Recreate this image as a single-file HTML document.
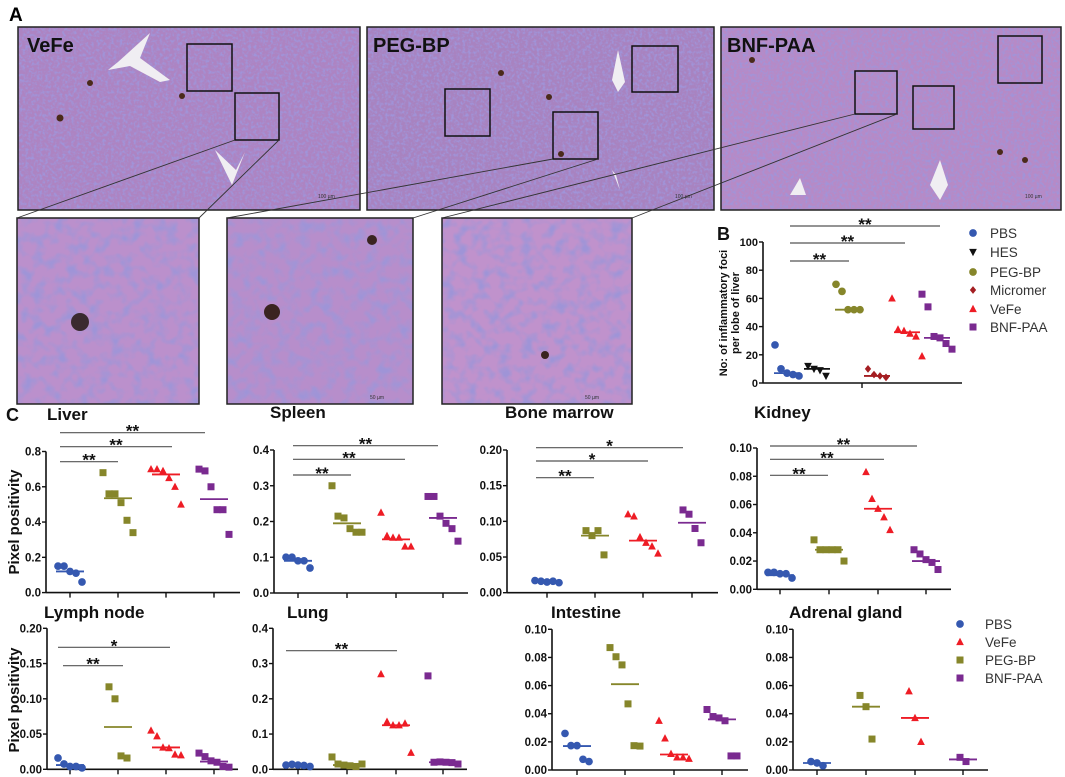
<!DOCTYPE html>
<html><head><meta charset="utf-8"><style>
html,body{margin:0;padding:0;background:#fff;}
svg{display:block;font-family:"Liberation Sans",Arial,sans-serif;}
</style></head><body>
<svg id="fig" width="1065" height="777" viewBox="0 0 1065 777" xmlns="http://www.w3.org/2000/svg">
<defs>
<filter id="tissue" x="0" y="0" width="100%" height="100%">
<feTurbulence type="fractalNoise" baseFrequency="0.35" numOctaves="2" seed="3" result="n"/>
<feColorMatrix in="n" type="matrix" values="0 0 0 0 0.35  0 0 0 0 0.3  0 0 0 0 0.7  3 0 0 0 -1.3" result="c"/>
<feComposite in="c" in2="SourceGraphic" operator="in"/>
</filter>
<filter id="tissue2" x="0" y="0" width="100%" height="100%">
<feTurbulence type="fractalNoise" baseFrequency="0.09" numOctaves="2" seed="7" result="n"/>
<feColorMatrix in="n" type="matrix" values="0 0 0 0 0.35  0 0 0 0 0.3  0 0 0 0 0.68  3 0 0 0 -1.3" result="c"/>
<feComposite in="c" in2="SourceGraphic" operator="in"/>
</filter>
</defs>
<g id="panelA">
<text x="9" y="21" font-size="19" font-weight="bold">A</text>
<g>
<rect x="18" y="27" width="342" height="183" fill="#ad84c2"/>
<rect x="18" y="27" width="342" height="183" fill="#fff" filter="url(#tissue)"/>
<path d="M118 62 L150 33 L140 58 L170 80 L160 82 L130 66 L108 70Z" fill="#f0eef2"/>
<path d="M215 150 L232 185 L245 152 L236 170Z" fill="#f0eef2"/>
<circle cx="60" cy="118" r="3.5" fill="#4a2a1a"/><circle cx="182" cy="96" r="3" fill="#4a2a1a"/><circle cx="90" cy="83" r="3" fill="#4a2a1a"/>
<rect x="18" y="27" width="342" height="183" fill="none" stroke="#222" stroke-width="1.5"/>
<rect x="187" y="44" width="45" height="47" fill="none" stroke="#111" stroke-width="1.5"/>
<rect x="235" y="93" width="44" height="47" fill="none" stroke="#111" stroke-width="1.5"/>
<text x="27" y="52" font-size="20" font-weight="bold" fill="#111">VeFe</text>
<text x="318" y="198" font-size="5" fill="#333">100 µm</text>
</g>
<g>
<rect x="367" y="27" width="347" height="183" fill="#a883c0"/>
<rect x="367" y="27" width="347" height="183" fill="#fff" filter="url(#tissue)"/>
<path d="M612 80 L618 50 L625 82 L618 92Z" fill="#f0eef2"/>
<path d="M612 170 L620 190 L616 175Z" fill="#f0eef2"/>
<circle cx="549" cy="97" r="3" fill="#4a2a1a"/><circle cx="501" cy="73" r="3" fill="#4a2a1a"/><circle cx="561" cy="154" r="3" fill="#4a2a1a"/>
<rect x="367" y="27" width="347" height="183" fill="none" stroke="#222" stroke-width="1.5"/>
<rect x="445" y="89" width="45" height="47" fill="none" stroke="#111" stroke-width="1.5"/>
<rect x="553" y="112" width="45" height="47" fill="none" stroke="#111" stroke-width="1.5"/>
<rect x="632" y="46" width="46" height="46" fill="none" stroke="#111" stroke-width="1.5"/>
<text x="373" y="52" font-size="20" font-weight="bold" fill="#111">PEG-BP</text>
<text x="675" y="198" font-size="5" fill="#333">100 µm</text>
</g>
<g>
<rect x="721" y="27" width="340" height="183" fill="#b68ac6"/>
<rect x="721" y="27" width="340" height="183" fill="#fff" filter="url(#tissue)"/>
<path d="M930 185 L940 160 L948 185 L940 200Z" fill="#f0eef2"/>
<path d="M790 195 L800 178 L806 195Z" fill="#f0eef2"/>
<circle cx="752" cy="60" r="3" fill="#4a2a1a"/><circle cx="1000" cy="152" r="3" fill="#4a2a1a"/><circle cx="1025" cy="160" r="3" fill="#4a2a1a"/>
<rect x="721" y="27" width="340" height="183" fill="none" stroke="#222" stroke-width="1.5"/>
<rect x="855" y="71" width="42" height="43" fill="none" stroke="#111" stroke-width="1.5"/>
<rect x="913" y="86" width="41" height="43" fill="none" stroke="#111" stroke-width="1.5"/>
<rect x="998" y="36" width="44" height="47" fill="none" stroke="#111" stroke-width="1.5"/>
<text x="727" y="52" font-size="20" font-weight="bold" fill="#111">BNF-PAA</text>
<text x="1025" y="198" font-size="5" fill="#333">100 µm</text>
</g>
<g>
<rect x="17" y="218" width="182" height="186" fill="#bb90cc"/>
<rect x="17" y="218" width="182" height="186" fill="#fff" filter="url(#tissue2)"/>
<circle cx="80" cy="322" r="9" fill="#3a2a30"/>
<rect x="17" y="218" width="182" height="186" fill="none" stroke="#222" stroke-width="1.5"/>
</g>
<g>
<rect x="227" y="218" width="186" height="186" fill="#b78ecb"/>
<rect x="227" y="218" width="186" height="186" fill="#fff" filter="url(#tissue2)"/>
<circle cx="272" cy="312" r="8" fill="#3a2420"/><circle cx="372" cy="240" r="5" fill="#3a2420"/>
<rect x="227" y="218" width="186" height="186" fill="none" stroke="#222" stroke-width="1.5"/>
<text x="370" y="399" font-size="5" fill="#333">50 µm</text>
</g>
<g>
<rect x="442" y="218" width="190" height="186" fill="#c092cc"/>
<rect x="442" y="218" width="190" height="186" fill="#fff" filter="url(#tissue2)"/>
<circle cx="545" cy="355" r="4" fill="#3a2420"/>
<rect x="442" y="218" width="190" height="186" fill="none" stroke="#222" stroke-width="1.5"/>
<text x="585" y="399" font-size="5" fill="#333">50 µm</text>
</g>
<g stroke="#333" stroke-width="0.9">
<line x1="235" y1="140" x2="17" y2="218"/><line x1="279" y1="140" x2="199" y2="218"/>
<line x1="553" y1="159" x2="227" y2="218"/><line x1="598" y1="159" x2="413" y2="218"/>
<line x1="855" y1="114" x2="442" y2="218"/><line x1="897" y1="114" x2="632" y2="218"/>
</g>
</g>
<g id="charts"></g>
</svg>
<script>
// ---------- Panel B data ----------
const bGroups = ["PBS","HES","PEG-BP","Micromer","VeFe","BNF-PAA"];
const bValues = [[27,10,7,6,5],[12,10,9,5],[70,65,52,52,52],[10,6,5,4],[60,38,37,35,33,19],[63,54,33,32,28,24]];
const bMedians = [7,10,52,5,36,32];
const bTicks = [0,20,40,60,80,100];
// ---------- Panel C data (x order: PBS, PEG-BP, VeFe, BNF-PAA) ----------
const cGroups = ["PBS","PEG-BP","VeFe","BNF-PAA"];
const cLegend = ["PBS","VeFe","PEG-BP","BNF-PAA"];
const liverValues = [[0.15,0.15,0.12,0.11,0.06],[0.68,0.56,0.56,0.51,0.41,0.34],[0.70,0.70,0.69,0.65,0.60,0.50],[0.70,0.69,0.60,0.47,0.47,0.33]];
const liverMedians = [0.12,0.535,0.67,0.53];
const spleenValues = [[0.10,0.10,0.09,0.09,0.07],[0.30,0.215,0.21,0.18,0.17,0.17],[0.225,0.16,0.155,0.155,0.13,0.13],[0.27,0.27,0.215,0.195,0.18,0.145]];
const spleenMedians = [0.09,0.195,0.15,0.21];
const marrowValues = [[0.017,0.016,0.015,0.016,0.014],[0.087,0.08,0.087,0.053],[0.11,0.107,0.078,0.07,0.065,0.055],[0.116,0.11,0.09,0.07]];
const marrowMedians = [0.015,0.08,0.073,0.098];
const kidneyValues = [[0.012,0.012,0.011,0.011,0.008],[0.035,0.028,0.028,0.028,0.028,0.02],[0.083,0.064,0.057,0.051,0.042],[0.028,0.025,0.021,0.019,0.014]];
const kidneyMedians = [0.010,0.028,0.057,0.020];
const lymphValues = [[0.016,0.0075,0.004,0.004,0.002],[0.117,0.10,0.019,0.016],[0.055,0.047,0.031,0.03,0.021,0.02],[0.023,0.018,0.012,0.01,0.004,0.003]];
const lymphMedians = [0.006,0.06,0.031,0.011];
const lungValues = [[0.012,0.014,0.012,0.011,0.008],[0.035,0.015,0.012,0.01,0.008,0.015],[0.27,0.135,0.125,0.125,0.13,0.047],[0.265,0.02,0.021,0.02,0.019,0.015]];
const lungMedians = [0.011,0.012,0.125,0.02];
const intestineValues = [[0.026,0.0173,0.0173,0.0076,0.006],[0.087,0.0805,0.0747,0.047,0.0173,0.017],[0.035,0.0225,0.0115,0.009,0.009,0.008],[0.043,0.038,0.037,0.035,0.01,0.01]];
const intestineMedians = [0.017,0.061,0.011,0.036];
const adrenalValues = [[0.006,0.005,0.003],[0.053,0.045,0.022],[0.056,0.037,0.02],[0.009,0.006]];
const adrenalMedians = [0.005,0.045,0.037,0.0075];
const liverTicks=[0,0.2,0.4,0.6,0.8], spleenTicks=[0,0.1,0.2,0.3,0.4], marrowTicks=[0,0.05,0.10,0.15,0.20];
const kidneyTicks=[0,0.02,0.04,0.06,0.08,0.10], lymphTicks=[0,0.05,0.10,0.15,0.20], lungTicks=[0,0.1,0.2,0.3,0.4];
const intestineTicks=[0,0.02,0.04,0.06,0.08,0.10], adrenalTicks=[0,0.02,0.04,0.06,0.08,0.10];

const NS="http://www.w3.org/2000/svg";
const root=document.getElementById('charts');
function mk(tag,attrs,parent){const e=document.createElementNS(NS,tag);for(const k in attrs)e.setAttribute(k,attrs[k]);(parent||root).appendChild(e);return e;}
const COL={"PBS":"#3558b0","HES":"#111","PEG-BP":"#86862a","Micromer":"#a41e22","VeFe":"#ee1c25","BNF-PAA":"#7a2a90"};
const SHAPE={"PBS":"circle","HES":"tridown","PEG-BP":"circle","Micromer":"diamond","VeFe":"tri","BNF-PAA":"square"};
const SHAPEC={"PBS":"circle","VeFe":"tri","PEG-BP":"square","BNF-PAA":"square"};
function marker(g,shape,x,y,s,c){
  let e;
  if(shape==="circle") e=mk('circle',{cx:x,cy:y,r:s*0.55,fill:c},g);
  else if(shape==="square") e=mk('rect',{x:x-s*0.5,y:y-s*0.5,width:s,height:s,fill:c},g);
  else if(shape==="tri") e=mk('polygon',{points:`${x},${y-s*0.6} ${x-s*0.55},${y+s*0.45} ${x+s*0.55},${y+s*0.45}`,fill:c},g);
  else if(shape==="tridown") e=mk('polygon',{points:`${x},${y+s*0.6} ${x-s*0.55},${y-s*0.45} ${x+s*0.55},${y-s*0.45}`,fill:c},g);
  else e=mk('polygon',{points:`${x},${y-s*0.55} ${x-s*0.45},${y} ${x},${y+s*0.55} ${x+s*0.45},${y}`,fill:c},g);
  return e;
}
function fmt(v,d){return v.toFixed(d);}

function plot(cfg){
  const g=mk('g',{});
  
  
  const ymax=cfg.ticks[cfg.ticks.length-1];
  const Y=v=>cfg.yb-(v/ymax)*(cfg.yb-cfg.yt);
  const X=i=>cfg.gx[i];
  const ax=mk('line',{x1:cfg.x0,y1:cfg.yt,x2:cfg.x0,y2:cfg.yb,stroke:'#111','stroke-width':1.6},g);
  
  
  const bx=mk('line',{x1:cfg.x0,y1:cfg.yb,x2:cfg.x1,y2:cfg.yb,stroke:'#111','stroke-width':1.6},g);
  
  
  cfg.ticks.forEach(t=>{
    const y=Y(t);
    mk('line',{x1:cfg.x0-4,y1:y,x2:cfg.x0,y2:y,stroke:'#111','stroke-width':1.4},g);
    const tx=mk('text',{x:cfg.x0-5,y:y+4,'font-size':cfg.tfs||11.5,'font-weight':'bold','text-anchor':'end',fill:'#111'},g);
    tx.textContent=fmt(t,cfg.dec);
    
    
  });
  cfg.xticks.forEach(x=>mk('line',{x1:x,y1:cfg.yb,x2:x,y2:cfg.yb+5,stroke:'#111','stroke-width':1.4},g));
  cfg.values.forEach((arr,i)=>{
    const grp=cfg.groups[i];const c=COL[grp];
    const n=arr.length;
    arr.forEach((v,j)=>{
      const off=(j-(n-1)/2)*cfg.step;
      const m=marker(g,cfg.shapes[grp],X(i)+off,Y(v),cfg.ms,c);
      
      
    });
    const md=mk('line',{x1:X(i)-cfg.mw,y1:Y(cfg.medians[i]),x2:X(i)+cfg.mw,y2:Y(cfg.medians[i]),stroke:c,'stroke-width':1.8},g);
    
    
  });
  (cfg.sig||[]).forEach(s=>{
    const l=mk('line',{x1:s[0],y1:s[2],x2:s[1],y2:s[2],stroke:'#555','stroke-width':1.2},g);
    
    
    const t=mk('text',{x:(s[0]+s[1])/2,y:s[2]+4,'font-size':17,'font-weight':'bold','text-anchor':'middle',fill:'#111'},g);
    t.textContent=s[3];
    
    
  });
  if(cfg.title){
    const t=mk('text',{x:cfg.tx,y:cfg.ty,'font-size':17,'font-weight':'bold',fill:'#111'},g);
    t.textContent=cfg.title;
    
    
  }
}

const base={groups:cGroups,shapes:SHAPEC,ms:7,step:6,mw:14};
plot(Object.assign({},base,{name:'liver',title:'Liver',tx:47,ty:420,x0:46,x1:240,yt:451.5,yb:592.6,ticks:liverTicks,dec:1,gx:[70,118,166,214],xticks:[70,118,166,214],values:liverValues,medians:liverMedians,
  sig:[[60,118,461.7,'**'],[60,172,446.7,'**'],[60,205,432.7,'**']]}));
plot(Object.assign({},base,{name:'spleen',title:'Spleen',tx:270,ty:418,x0:274,x1:468,yt:450,yb:593,ticks:spleenTicks,dec:1,gx:[298,347,396,443],xticks:[298,347,396,443],values:spleenValues,medians:spleenMedians,
  sig:[[293,351,475,'**'],[293,405,459.3,'**'],[293,438,445.7,'**']]}));
plot(Object.assign({},base,{name:'bone-marrow',title:'Bone marrow',tx:505,ty:418,x0:507,x1:718,yt:450,yb:592.7,ticks:marrowTicks,dec:2,gx:[547,595,643,692],xticks:[547,595,643,692],values:marrowValues,medians:marrowMedians,
  sig:[[536,594,477.7,'**'],[536,648,461,'*'],[536,683,447.7,'*']]}));
plot(Object.assign({},base,{name:'kidney',title:'Kidney',tx:754,ty:418,x0:757,x1:951,yt:448,yb:589.3,ticks:kidneyTicks,dec:2,gx:[780,829,878,926],xticks:[780,829,878,926],values:kidneyValues,medians:kidneyMedians,
  sig:[[770,828,475.3,'**'],[770,884,459.3,'**'],[770,917,446,'**']]}));
plot(Object.assign({},base,{name:'lymph-node',title:'Lymph  node',tx:44,ty:618,x0:47,x1:238,yt:628.3,yb:769.3,ticks:lymphTicks,dec:2,gx:[70,118,166,214],xticks:[70,118,166,214],values:lymphValues,medians:lymphMedians,
  sig:[[63,123,665.7,'**'],[58,170,647.3,'*']]}));
plot(Object.assign({},base,{name:'lung',title:'Lung',tx:287,ty:618,x0:273,x1:467,yt:628.3,yb:769.3,ticks:lungTicks,dec:1,gx:[298,347,396,443],xticks:[298,347,396,443],values:lungValues,medians:lungMedians,
  sig:[[286,397,650.7,'**']]}));
plot(Object.assign({},base,{name:'intestine',title:'Intestine',tx:551,ty:618,x0:552,x1:748,yt:629.3,yb:770,ticks:intestineTicks,dec:2,gx:[577,625,674,722],xticks:[577,625,674,722],values:intestineValues,medians:intestineMedians}));
plot(Object.assign({},base,{name:'adrenal-gland',title:'Adrenal gland',tx:789,ty:618,x0:793,x1:988,yt:629.3,yb:770,ticks:adrenalTicks,dec:2,gx:[817,866,915,963],xticks:[817,866,915,963],values:adrenalValues,medians:adrenalMedians}));
plot({name:'panel-b',groups:bGroups,shapes:SHAPE,ms:7,step:6,mw:13,tfs:11,x0:763,x1:962,yt:242,yb:383,ticks:bTicks,dec:0,gx:[787,817,848,877,907,937],xticks:[862],values:bValues,medians:bMedians,
  sig:[[790,849,261,'**'],[790,905,243,'**'],[790,940,226,'**']]});

function label(txt,x,y,size,extra){const t=mk('text',Object.assign({x:x,y:y,'font-size':size,'font-weight':'bold',fill:'#111'},extra||{}));t.textContent=txt;return t;}
let t;
t=label('B',717,240,18);


t=label('C',6,421,18);


t=label('No: of inflammatory foci',727,313,11,{'text-anchor':'middle',transform:'rotate(-90 727 313)'});


t=label('per lobe of liver',739,313,11,{'text-anchor':'middle',transform:'rotate(-90 739 313)'});


t=label('Pixel positivity',19,522,15,{'text-anchor':'middle',transform:'rotate(-90 19 522)'});


t=label('Pixel positivity',19,700,15,{'text-anchor':'middle',transform:'rotate(-90 19 700)'});



const bLegY=[233,252,272,290,309,327];
bGroups.forEach((gname,i)=>{
  const m=marker(root,SHAPE[gname],973,bLegY[i],7,COL[gname]);
  
  
  const tt=mk('text',{x:990,y:bLegY[i]+5,'font-size':13.5,fill:'#333'});
  tt.textContent=gname;
  
  
});
const cLegY=[624,642,660,678];
cLegend.forEach((gname,i)=>{
  const m=marker(root,SHAPEC[gname],960,cLegY[i],7,COL[gname]);
  
  
  const tt=mk('text',{x:985,y:cLegY[i]+5,'font-size':13.5,fill:'#333'});
  tt.textContent=gname;
  
  
});
</script>
</body></html>
